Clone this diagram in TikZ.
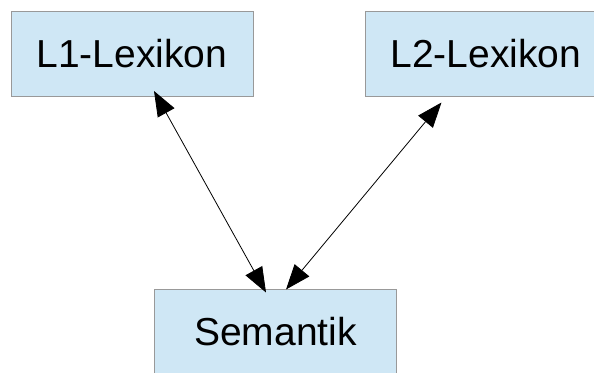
\documentclass[tikz,border=0pt]{standalone}
\usepackage{fontspec}
\setmainfont{Liberation Sans}
\usetikzlibrary{arrows.meta}
\definecolor{boxfill}{RGB}{207,231,245}
\definecolor{boxline}{RGB}{153,153,153}
\tikzset{
  lexbox/.style={draw=boxline, line width=0.8pt, fill=boxfill, minimum width=242pt,
    minimum height=85pt, inner sep=0pt, font=\fontsize{39}{44}\selectfont},
  link/.style={draw=black, line width=0.8pt,
    {Triangle[length=25pt,width=19pt]}-{Triangle[length=25pt,width=19pt]}}
}
\begin{document}
\begin{tikzpicture}[x=1pt, y=-1pt]
  \useasboundingbox (0,0) rectangle (594,372);
  \node[lexbox] (l1) at (132,53.5) {L1-Lexikon};
  \node[lexbox] (l2) at (486,53.5) {L2-Lexikon};
  \node[lexbox] (sem) at (275.5,331.5) {Semantik};
  % arrow end points lie on the box edges
  \coordinate (l1end) at (154,91);
  \coordinate (l2end) at (441.5,102.5);
  \coordinate (semA) at (266,292.5);
  \coordinate (semB) at (286,289.5);
  \draw[link] (l1end) -- (semA);
  \draw[link] (l2end) -- (semB);
\end{tikzpicture}
\end{document}
